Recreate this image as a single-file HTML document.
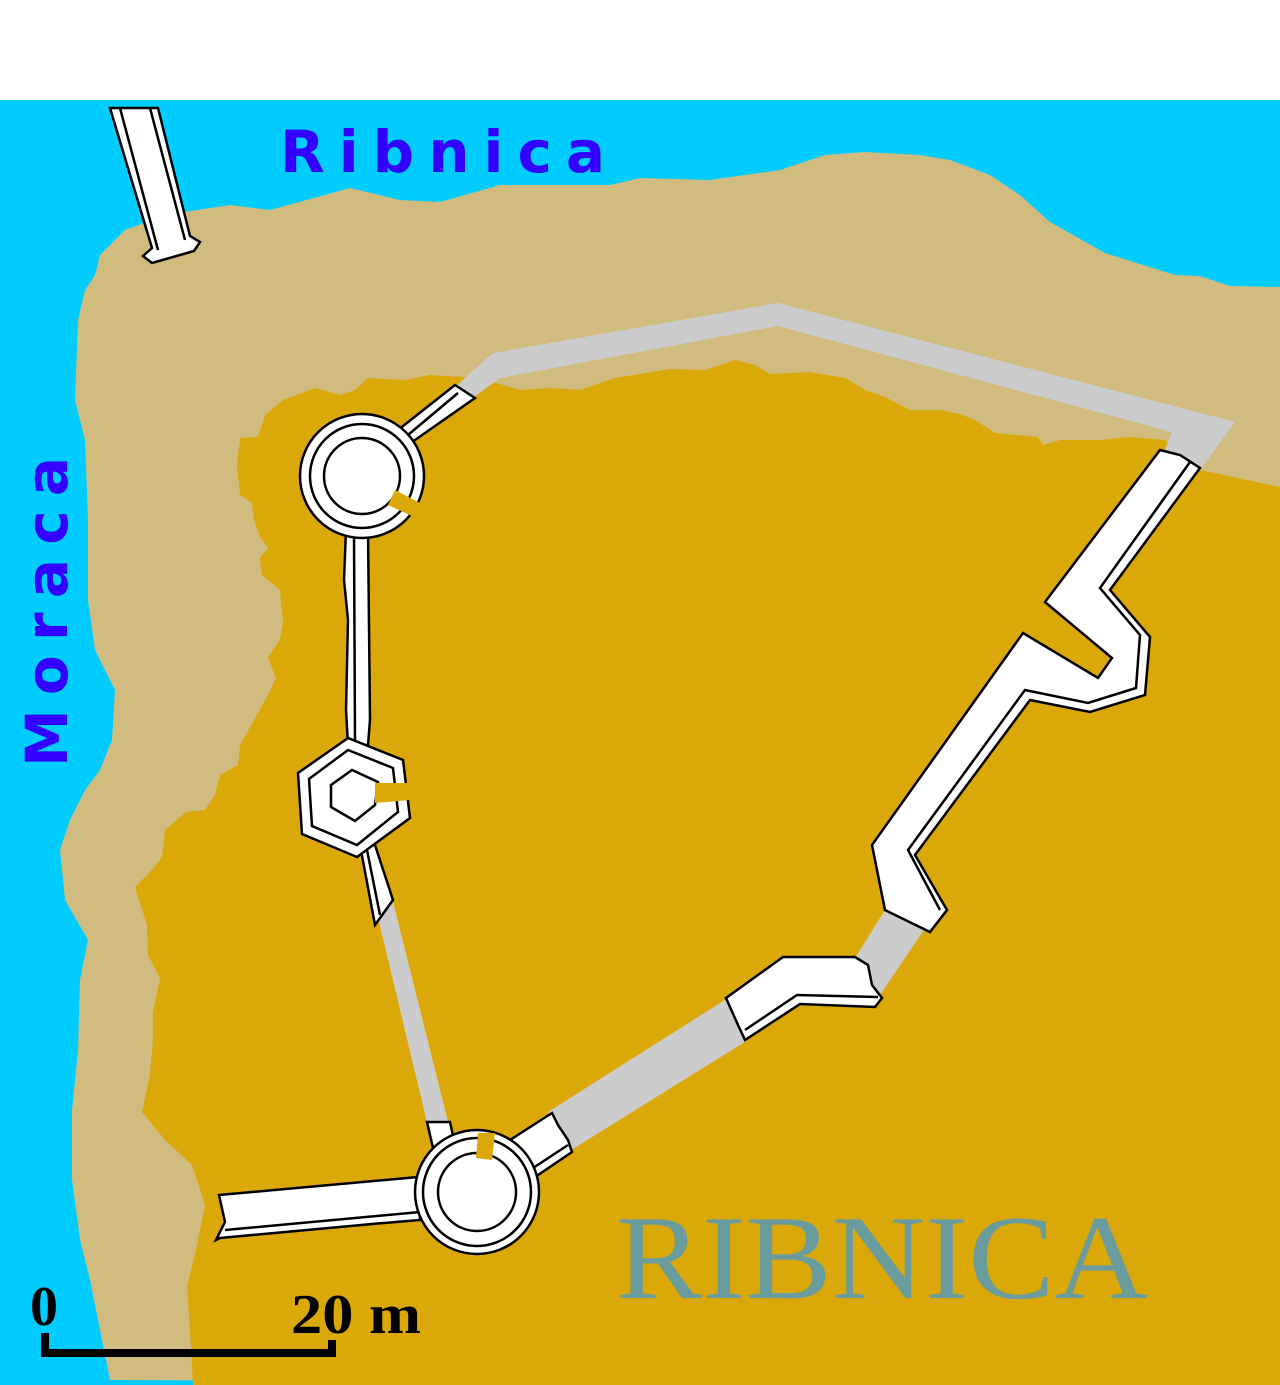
<!DOCTYPE html>
<html><head><meta charset="utf-8"><style>html,body{margin:0;padding:0;background:#fff}svg{display:block}</style></head><body>
<svg width="1280" height="1385" viewBox="0 0 1280 1385" xmlns="http://www.w3.org/2000/svg">
<rect x="0" y="0" width="1280" height="1385" fill="#fff"/>
<rect x="0" y="100" width="1280" height="1285" fill="#00CCFF"/>
<polygon fill="#D0BC7E" points="125,230 165,215 230,205 270,210 350,188 400,200 440,202 500,185 610,185 640,178 710,180 780,170 825,155 865,152 920,155 950,160 990,175 1020,195 1050,222 1105,253 1175,275 1200,276 1230,286 1280,287 1280,1385 110,1380 100,1330 90,1280 80,1240 72,1180 72,1110 78,1050 80,980 88,940 65,900 60,850 70,820 85,790 100,770 112,740 115,690 95,650 88,600 88,520 85,440 75,400 78,320 85,290 95,275 100,255"/>
<polygon fill="#DAA808" points="1280,487 1200,470 1165,440 1130,437 1100,440 1060,440 1043,445 1038,437 995,433 975,420 960,414 940,410 910,410 885,397 865,390 845,378 810,372 770,374 755,365 735,360 705,370 670,369 615,378 580,390 550,388 520,390 480,378 430,375 405,380 368,378 355,390 340,395 315,388 283,400 265,415 258,437 240,438 237,465 240,495 252,503 254,520 260,537 268,548 260,558 262,575 280,590 283,622 280,640 268,657 276,678 268,695 240,745 238,765 220,775 215,795 205,810 186,812 165,830 162,857 150,872 135,887 147,925 148,955 160,978 153,1013 153,1040 150,1075 142,1112 165,1140 192,1165 205,1205 197,1245 187,1287 190,1330 193,1385 1280,1385"/>
<g fill="#CCCCCC">
<polygon points="455,387 493,353 778,303 1235,422 1200,470 1165,450 1172,432 778,326 500,378 470,400"/>
<polygon points="375,905 392,898 450,1130 430,1135"/>
<polygon points="548,1112 728,998 748,1040 568,1152"/>
<polygon points="885,910 932,918 880,995 855,958"/>
</g>
<g fill="#fff" stroke="#000" stroke-width="2.5" stroke-linejoin="miter">
<polygon points="110,108 158,108 190,236 200,242 194,251 152,263 143,256 152,248"/>
<polyline fill="none" points="120,108 158,250"/>
<polyline fill="none" points="150,108 185,240"/>
<polygon points="398,430 455,385 475,398 405,447"/>
<polyline fill="none" points="458,393 402,440"/>
<polygon points="346,530 368,530 370,720 368,745 348,745 346,710 348,620 344,580"/>
<polyline fill="none" points="354,535 355,740"/>
<polygon points="360,845 375,845 393,900 375,925"/>
<polyline fill="none" points="366,845 380,915"/>
<polygon points="1160,450 1180,455 1200,468 1110,590 1150,637 1145,695 1090,712 1030,700 915,855 947,910 930,932 885,910 872,845 1023,633 1098,678 1112,658 1045,602"/>
<polyline fill="none" points="1190,462 1100,588 1140,635 1136,688 1088,703 1025,690 908,850 940,910"/>
<polygon points="726,998 783,957 855,957 868,965 872,985 882,998 875,1007 800,1004 745,1040 738,1025"/>
<polyline fill="none" points="745,1030 797,995 878,997"/>
<polygon points="510,1140 552,1113 558,1125 568,1140 572,1152 535,1177 520,1168"/>
<polyline fill="none" points="530,1170 568,1145"/>
<polygon points="219,1195 418,1177 420,1220 372,1224 220,1238 216,1240 225,1222"/>
<polyline fill="none" points="225,1230 420,1212"/>
<polygon points="427,1122 450,1122 455,1145 433,1148"/>
<circle cx="362" cy="476" r="62"/>
<circle cx="362" cy="476" r="52"/>
<circle cx="362" cy="476" r="38"/>
<circle cx="477" cy="1192" r="62"/>
<circle cx="477" cy="1192" r="54"/>
<circle cx="477" cy="1192" r="39"/>
<polygon points="298,773 348,738 403,760 410,818 357,857 302,834"/>
<polygon points="309,779 348,750 393,768 398,812 357,845 312,826"/>
<polygon points="331,785 352,770 378,782 375,805 355,821 331,807"/>
</g>
<g fill="#DAA808">
<polygon points="395,490 420,503 412,516 388,505"/>
<polygon points="375,783 410,783 410,800 375,803"/>
<polygon points="478,1133 495,1133 492,1160 476,1158"/>
</g>
<g font-family="'DejaVu Sans','Liberation Sans',sans-serif" font-weight="bold" fill="#3300FF" font-size="58">
<text x="280" y="172" textLength="325" lengthAdjust="spacing">Ribnica</text>
<text transform="translate(67,767) rotate(-90)" textLength="310" lengthAdjust="spacing">Moraca</text>
</g>
<text x="616" y="1298" font-family="'Liberation Serif',serif" font-size="120" fill="#6A9C9E" textLength="532" lengthAdjust="spacingAndGlyphs">RIBNICA</text>
<g font-family="'Liberation Serif',serif" font-weight="bold" font-size="56" fill="#000">
<text x="30" y="1325">0</text>
<text x="291" y="1333" textLength="130" lengthAdjust="spacingAndGlyphs">20 m</text>
</g>
<path d="M45,1333 V1353 H332 V1340" fill="none" stroke="#000" stroke-width="8"/>
</svg>
</body></html>
